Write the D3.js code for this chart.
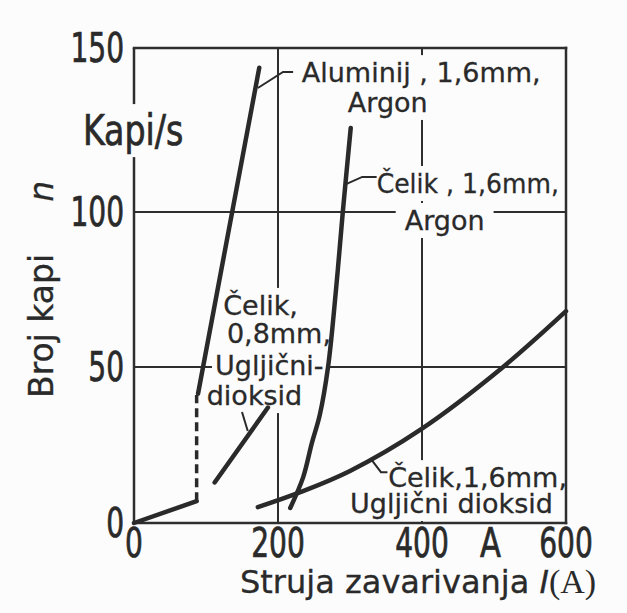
<!DOCTYPE html>
<html>
<head>
<meta charset="utf-8">
<script src="https://cdn.jsdelivr.net/npm/d3@7"></script>
<style>
  body { margin: 0; background: #fcfcfc; }
  svg { display: block; }
  .grid line { stroke: #2e2e2e; stroke-width: 2; }
  .frame line { stroke: #2e2e2e; stroke-width: 2.5; stroke-linecap: square; }
  .curve { fill: none; stroke: #2a2a2a; stroke-width: 4.5; stroke-linecap: round; stroke-linejoin: round; }
  .dashed { stroke-width: 3.5; stroke-dasharray: 9 5; stroke-linecap: butt; }
  .leader { fill: none; stroke: #2a2a2a; stroke-width: 2; }
  .tick { font-family: "Liberation Sans Narrow", "DejaVu Sans Condensed", sans-serif; font-size: 40px; fill: #2a2a2a; stroke: #2a2a2a; stroke-width: 0.7; }
  .lab { font-family: "DejaVu Sans", sans-serif; font-size: 27px; fill: #2a2a2a; stroke: #2a2a2a; stroke-width: 0.3; }
  .title { font-family: "DejaVu Sans", sans-serif; font-size: 32px; fill: #2a2a2a; stroke: #2a2a2a; stroke-width: 0.3; }
</style>
</head>
<body>
<div id="chart"></div>
<script>
// drop rate vs welding current

var xTicks = [0, 200, 400, 600];
var yTicks = [0, 50, 100, 150];

// aluminij 1,6mm argon: low part, the jump (dashed), the steep part
var aluminijLow = [[0, 0], [87, 7]];
var aluminijJump = [[87, 7], [87, 41]];
var aluminijHigh = [[89, 41.5], [174, 144]];

// celik 1,6mm argon
var celikArgon = [[217, 4.8], [235, 14.7], [247, 25.6], [258, 34.6], [269.5, 50], [280.5, 74.8], [290, 100], [301, 125.6]];

// celik 0,8mm CO2
var celikTanki = [[112, 13], [186, 37]];

// celik 1,6mm CO2
var celikCO2 = [[172, 5.1], [231, 9.9], [300, 16.7], [399, 30.1], [511, 49.7], [600, 68]];

var W = 627, H = 613;

var svg = d3.select("#chart").append("svg")
  .attr("width", W).attr("height", H);

// the scan is a bit stretched, so y goes through the gridlines piece by piece
var x = d3.scaleLinear().domain([0, 600]).range([134, 566]);
var y = d3.scaleLinear().domain([0, 50, 100, 150]).range([523, 367, 212, 48]);

var gGrid = svg.append("g").attr("class", "grid");
var gBg = svg.append("g");
var gFrame = svg.append("g").attr("class", "frame");
var gCurves = svg.append("g");
var gText = svg.append("g");

// inner gridlines
gGrid.selectAll("line.v").data(xTicks.slice(1, -1)).enter().append("line")
  .attr("x1", function(d){ return x(d); }).attr("x2", function(d){ return x(d); })
  .attr("y1", y(0)).attr("y2", y(150));
gGrid.selectAll("line.h").data(yTicks.slice(1, -1)).enter().append("line")
  .attr("x1", x(0)).attr("x2", x(600))
  .attr("y1", function(d){ return y(d); }).attr("y2", function(d){ return y(d); });
// left axis (gets cut by "Kapi/s")
gGrid.append("line").style("stroke-width", 2.5)
  .attr("x1", x(0)).attr("x2", x(0)).attr("y1", y(0)).attr("y2", y(150));

// top, right, bottom of the frame
gFrame.append("line").attr("x1", x(0)).attr("x2", x(600)).attr("y1", y(150)).attr("y2", y(150));
gFrame.append("line").attr("x1", x(600)).attr("x2", x(600)).attr("y1", y(150)).attr("y2", y(0));
gFrame.append("line").attr("x1", x(0)).attr("x2", x(600)).attr("y1", y(0)).attr("y2", y(0));

var line = d3.line().x(function(d){ return x(d[0]); }).y(function(d){ return y(d[1]); });
var smooth = d3.line().x(function(d){ return x(d[0]); }).y(function(d){ return y(d[1]); })
  .curve(d3.curveCatmullRom.alpha(0.5));

gCurves.append("path").attr("class", "curve").attr("d", line(aluminijLow));
gCurves.append("path").attr("class", "curve dashed").attr("d", line(aluminijJump));
gCurves.append("path").attr("class", "curve").attr("d", line(aluminijHigh));
gCurves.append("path").attr("class", "curve").attr("d", smooth(celikArgon));
gCurves.append("path").attr("class", "curve").attr("d", line(celikTanki));
gCurves.append("path").attr("class", "curve").attr("d", smooth(celikCO2));

// little leader lines from the labels to the curves
var leaders = [
  [[221, 142.7], [207, 142.7], [172, 137.8]],
  [[337, 110.7], [317, 110.7], [294.5, 108.5]],
  [[150, 35.6], [158, 29.5]],
  [[330, 20.2], [343, 16.3], [352, 16.3]]
];
gCurves.selectAll("path.leader").data(leaders).enter().append("path")
  .attr("class", "leader").attr("d", line);

// the scan uses a narrow stencil-like face, so squeeze the text a bit
function squeeze(sel, k) {
  sel.each(function(){
    var w = this.getComputedTextLength();
    d3.select(this).attr("textLength", w * k).attr("lengthAdjust", "spacingAndGlyphs");
  });
}

// curve labels, one entry per text line (x, y in data units)
var labels = [
  { pad: 3, lines: [["Aluminij , 1,6mm,", 233, 139.6], ["Argon", 297, 130.5]] },
  { pad: 9, lines: [["Čelik , 1,6mm,", 337, 105.8], ["Argon", 376, 94.2]] },
  { pad: 3, lines: [["Čelik,", 124, 66.8], ["0,8mm,", 129, 57.7], ["Ugljični-", 112.5, 47.4], ["dioksid", 101, 37.8]] },
  { pad: 3, lines: [["Čelik,1,6mm,", 353, 11.5], ["Ugljični dioksid", 300, 3.2]] }
];

labels.forEach(function(lb){
  lb.lines.forEach(function(ln){
    var t = gText.append("text").attr("class", "lab")
      .attr("x", x(ln[1])).attr("y", y(ln[2])).text(ln[0]);
    if (ln[0] === "Čelik , 1,6mm,") squeeze(t, 0.93);
    var b = t.node().getBBox();
    gBg.append("rect").attr("fill", "#fcfcfc")
      .attr("x", b.x - lb.pad).attr("y", b.y - 2)
      .attr("width", b.width + 2 * lb.pad).attr("height", b.height + 4);
  });
});

// tick labels
var ty = gText.selectAll("text.ty").data(yTicks).enter().append("text")
  .attr("class", "tick").attr("text-anchor", "end")
  .attr("x", x(0) - 10).attr("y", function(d){ return y(d); }).attr("dy", "0.36em")
  .text(function(d){ return d; });
var tx = gText.selectAll("text.tx").data(xTicks).enter().append("text")
  .attr("class", "tick").attr("text-anchor", "middle")
  .attr("x", function(d){ return x(d); }).attr("y", 557)
  .text(function(d){ return d; });
var tA = gText.append("text").attr("class", "tick").attr("text-anchor", "middle")
  .attr("x", x(495)).attr("y", 557).text("A");
squeeze(ty, 0.78);
squeeze(tx, 0.78);
squeeze(tA, 0.85);

// unit on the y axis, it cuts the axis line
var kapi = gText.append("text").attr("class", "tick").style("font-size", "42px")
  .attr("x", x(-71)).attr("y", y(120.4)).text("Kapi/s");
squeeze(kapi, 0.88);
var kb = kapi.node().getBBox();
gBg.append("rect").attr("fill", "#fcfcfc")
  .attr("x", kb.x).attr("y", kb.y - 2).attr("width", kb.width).attr("height", kb.height + 4);

// axis titles
var xt = gText.append("text").attr("class", "title").attr("x", 240).attr("y", 593);
xt.append("tspan").text("Struja zavarivanja ");
xt.append("tspan").style("font-style", "italic").text("I");
xt.append("tspan").style("font-family", "'Liberation Serif', serif").style("font-size", "34px")
  .style("stroke-width", 0).text("(A)");

var yt = gText.append("text").attr("class", "title").style("font-size", "33px")
  .attr("transform", "translate(53,398) rotate(-90)");
yt.append("tspan").text("Broj kapi");
yt.append("tspan").attr("dx", 52).style("font-style", "italic").text("n");
</script>
</body>
</html>
